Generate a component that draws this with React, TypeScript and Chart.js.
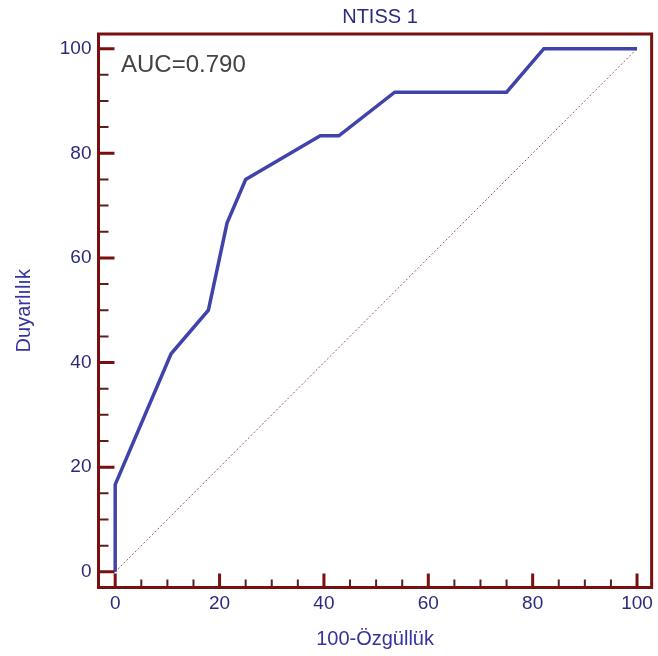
import React, { useEffect, useRef } from "react";
import { Chart, registerables } from "chart.js";

Chart.register(...registerables);

// ROC curve: x = 100 - specificity, y = sensitivity
const fprValues = [0, 0, 10.71, 17.86, 21.43, 25, 39.29, 42.86, 53.57, 75, 82.14, 100];
const sensValues = [0, 16.67, 41.67, 50, 66.67, 75, 83.33, 83.33, 91.67, 91.67, 100, 100];
const diagX = [0, 100];
const diagY = [0, 100];
const majorTicks = [0, 20, 40, 60, 80, 100];
const minorTicks = [5, 10, 15, 25, 30, 35, 45, 50, 55, 65, 70, 75, 85, 90, 95];
const chartTitle = "NTISS 1";
const aucLabel = "AUC=0.790";
const xTitle = "100-Özgüllük";
const yTitle = "Duyarlılık";

const FONT = "'Liberation Sans', Arial, sans-serif";
const FRAME = "#7a0f0f";
const MINOR = "#5a1f1f";
const NAVY = "#2b2b7e";
const TITLE_BLUE = "#3434a0";

const framePlugin = {
  id: "rocFrame",
  afterDraw(chart: any) {
    const { ctx, chartArea } = chart;
    const xs = chart.scales.x;
    const ys = chart.scales.y;
    const { left, right, top, bottom } = chartArea;
    ctx.save();
    // minor ticks
    ctx.strokeStyle = MINOR;
    ctx.lineWidth = 2;
    ctx.beginPath();
    for (const v of minorTicks) {
      const px = xs.getPixelForValue(v);
      ctx.moveTo(px, bottom);
      ctx.lineTo(px, bottom - 8);
      const py = ys.getPixelForValue(v);
      ctx.moveTo(left, py);
      ctx.lineTo(left + 10, py);
    }
    ctx.stroke();
    // major ticks
    ctx.strokeStyle = FRAME;
    ctx.lineWidth = 3;
    ctx.beginPath();
    for (const v of majorTicks) {
      const px = xs.getPixelForValue(v);
      ctx.moveTo(px, bottom);
      ctx.lineTo(px, bottom - 14);
      const py = ys.getPixelForValue(v);
      ctx.moveTo(left, py);
      ctx.lineTo(left + 16, py);
    }
    ctx.stroke();
    // frame
    ctx.lineWidth = 3;
    ctx.strokeStyle = FRAME;
    ctx.strokeRect(left, top, right - left, bottom - top);
    // title
    ctx.fillStyle = NAVY;
    ctx.font = `20px ${FONT}`;
    ctx.textAlign = "center";
    ctx.textBaseline = "alphabetic";
    ctx.fillText(chartTitle, 380, 23);
    // AUC label
    ctx.fillStyle = "#444444";
    ctx.font = `24px ${FONT}`;
    ctx.textAlign = "left";
    ctx.fillText(aucLabel, 121, 72);
    ctx.restore();
  },
};

export default function App() {
  const ref = useRef<HTMLCanvasElement | null>(null);

  useEffect(() => {
    if (!ref.current) return;
    const chart = new Chart(ref.current, {
      type: "scatter",
      data: {
        datasets: [
          {
            label: "ROC",
            data: fprValues.map((x, i) => ({ x, y: sensValues[i] })),
            showLine: true,
            borderColor: "#4044aa",
            borderWidth: 3.5,
            pointRadius: 0,
            fill: false,
            tension: 0,
            order: 1,
          },
          {
            label: "Reference",
            data: diagX.map((x, i) => ({ x, y: diagY[i] })),
            showLine: true,
            borderColor: "#b05050",
            borderWidth: 1,
            borderDash: [2, 2],
            pointRadius: 0,
            fill: false,
            order: 2,
          },
        ],
      },
      options: {
        responsive: false,
        animation: false,
        layout: { padding: { top: 34, right: 4.5, left: 0, bottom: 0 } },
        plugins: {
          legend: { display: false },
          title: { display: false },
          tooltip: { enabled: false },
        },
        scales: {
          x: {
            type: "linear",
            min: -3.2,
            max: 102.8,
            grid: { display: false, drawTicks: false },
            border: { display: false },
            afterBuildTicks: (s: any) => {
              s.ticks = majorTicks.map((v) => ({ value: v }));
            },
            afterFit: (s: any) => {
              s.height = 68.5;
            },
            ticks: {
              color: NAVY,
              font: { family: FONT, size: 19 },
              padding: 5,
              maxRotation: 0,
              autoSkip: false,
            },
            title: {
              display: true,
              text: xTitle,
              color: TITLE_BLUE,
              font: { family: FONT, size: 20 },
              padding: { top: 0, bottom: 5 },
            },
          },
          y: {
            type: "linear",
            min: -3,
            max: 102.8,
            grid: { display: false, drawTicks: false },
            border: { display: false },
            afterBuildTicks: (s: any) => {
              s.ticks = majorTicks.map((v) => ({ value: v }));
            },
            afterFit: (s: any) => {
              s.width = 98.5;
            },
            ticks: {
              color: NAVY,
              font: { family: FONT, size: 19 },
              padding: 7,
              autoSkip: false,
            },
            title: {
              display: true,
              text: yTitle,
              color: TITLE_BLUE,
              font: { family: FONT, size: 20 },
              padding: { top: 12, bottom: 0 },
            },
          },
        },
      },
      plugins: [framePlugin],
    } as any);
    return () => chart.destroy();
  }, []);

  return (
    <div style={{ position: "absolute", left: 0, top: 0, width: 658, height: 656, background: "#ffffff" }}>
      <canvas ref={ref} width={658} height={656} style={{ display: "block" }} />
    </div>
  );
}
